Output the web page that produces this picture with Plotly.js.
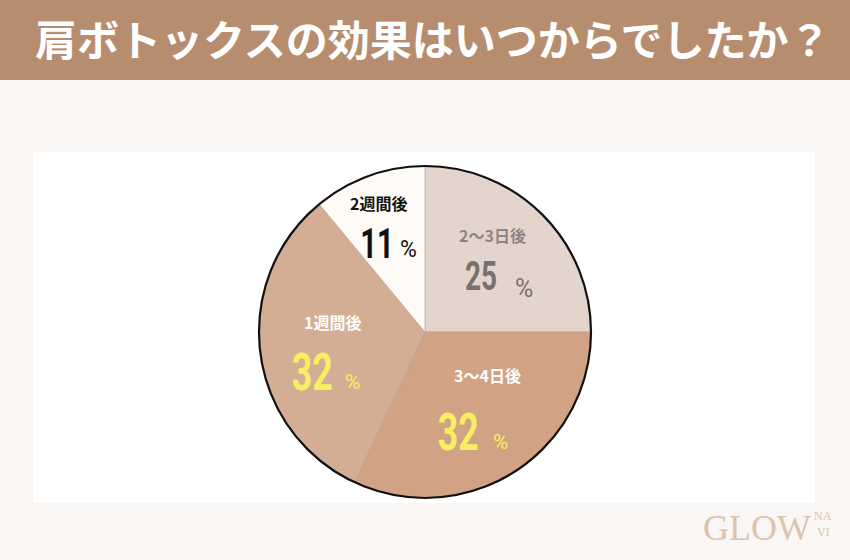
<!DOCTYPE html>
<html><head><meta charset="utf-8">
<script src="https://cdn.plot.ly/plotly-3.0.1.min.js"></script>
<style>html,body{margin:0;padding:0;background:#faf6f3}</style>
</head><body><div id="chart" style="width:850px;height:560px"></div>
<script>
const categories = ["2〜3日後", "3〜4日後", "1週間後", "2週間後"];
const values = [25, 32, 32, 11];
const sliceColors = ["#e4d5cc", "#d1a283", "#d4ae94", "#fefaf5"];
const titleText = "肩ボトックスの効果はいつからでしたか？";

const JP = "'Noto Sans CJK JP', 'Noto Sans', sans-serif";
const NUM = "'Roboto', sans-serif";

// label styling per slice (colors / sizes / positions in pixels)
const labelStyle = [
  {lc:"#8e8481", nc:"#797170", ns:40, ps:25, lx:493, ly:235, nx:481, ny:276, px:524, py:288},
  {lc:"#ffffff", nc:"#f8ee62", ns:51, ps:21, lx:487, ly:375, nx:458, ny:432, px:501, py:442},
  {lc:"#ffffff", nc:"#f8ee62", ns:51, ps:21, lx:332, ly:322, nx:312, ny:372, px:352, py:382},
  {lc:"#111111", nc:"#111111", ns:42, ps:23, lx:378, ly:203, nx:377, ny:243, px:408, py:249}
];
const W = 850, H = 560;
const annotations = [];
categories.forEach((c, i) => {
  const s = labelStyle[i];
  annotations.push({x: s.lx / W, y: 1 - s.ly / H, xref:"paper", yref:"paper", xanchor:"center", yanchor:"middle",
    showarrow:false, text: "<b>" + c + "</b>", font:{family: JP, size:16, color: s.lc}});
  annotations.push({x: s.nx / W, y: 1 - s.ny / H, xref:"paper", yref:"paper", xanchor:"center", yanchor:"middle",
    showarrow:false, name:"num", text: "<b>" + values[i] + "</b>",
    font:{family: NUM, size: s.ns, color: s.nc}});
  annotations.push({x: s.px / W, y: 1 - s.py / H, xref:"paper", yref:"paper", xanchor:"center", yanchor:"middle",
    showarrow:false, text: "%", font:{family: NUM, size: s.ps, color: s.nc}});
});
const logoFont = "'Liberation Serif', 'DejaVu Serif', serif";
annotations.push({x: 757/W, y: 1 - 528/H, xref:"paper", yref:"paper", xanchor:"center", yanchor:"middle", showarrow:false,
  text:"GLOW", font:{family:logoFont, size:36, color:"#dbc4ad"}});
annotations.push({x: 823/W, y: 1 - 516/H, xref:"paper", yref:"paper", xanchor:"center", yanchor:"middle", showarrow:false,
  text:"NA", font:{family:logoFont, size:12, color:"#dbc4ad"}});
annotations.push({x: 823/W, y: 1 - 532/H, xref:"paper", yref:"paper", xanchor:"center", yanchor:"middle", showarrow:false,
  text:"VI", font:{family:logoFont, size:12, color:"#dbc4ad"}});

const domain = {x:[(425-166)/W, (425+166)/W], y:[1-498/H, 1-166/H]};

const data = [
  {type:"pie", labels: categories, values: values, sort:false, direction:"clockwise", rotation:0,
   marker:{colors: sliceColors, line:{color:"#b7a091", width:0.6}},
   textinfo:"none", hoverinfo:"label+percent", showlegend:false, domain: domain},
  {type:"pie", labels:["outline"], values:[1], sort:false, textinfo:"none", hoverinfo:"skip",
   marker:{colors:["rgba(0,0,0,0)"], line:{color:"#111111", width:2.2}}, showlegend:false, domain: domain}
];

const layout = {
  width: W, height: H, margin:{l:0,r:0,t:0,b:0},
  paper_bgcolor:"#faf6f3", plot_bgcolor:"#faf6f3",
  title:{text: "<b>" + titleText + "</b>", x: 35/W, xanchor:"left", y: 1 - 41/H, yanchor:"middle",
    font:{family: JP, size:42, color:"#ffffff"}},
  shapes:[
    {type:"rect", xref:"paper", yref:"paper", x0:0, x1:1, y0:1-80/H, y1:1, fillcolor:"#b78d6f", line:{width:0}, layer:"below"},
    {type:"rect", xref:"paper", yref:"paper", x0:33/W, x1:815/W, y0:1-503/H, y1:1-152/H, fillcolor:"#ffffff", line:{width:0}, layer:"below"}
  ],
  annotations: annotations
};
Plotly.newPlot("chart", data, layout, {displayModeBar:false, staticPlot:true}).then(() => {
  // condense the percentage figures like the reference's narrow numerals
  document.querySelectorAll("#chart .annotation-text").forEach(t => {
    if (/^\d+$/.test(t.textContent.trim())) {
      t.style.transformBox = "fill-box";
      t.style.transformOrigin = "center";
      t.style.transform = "scaleX(0.7)";
    }
  });
});
</script></body></html>
